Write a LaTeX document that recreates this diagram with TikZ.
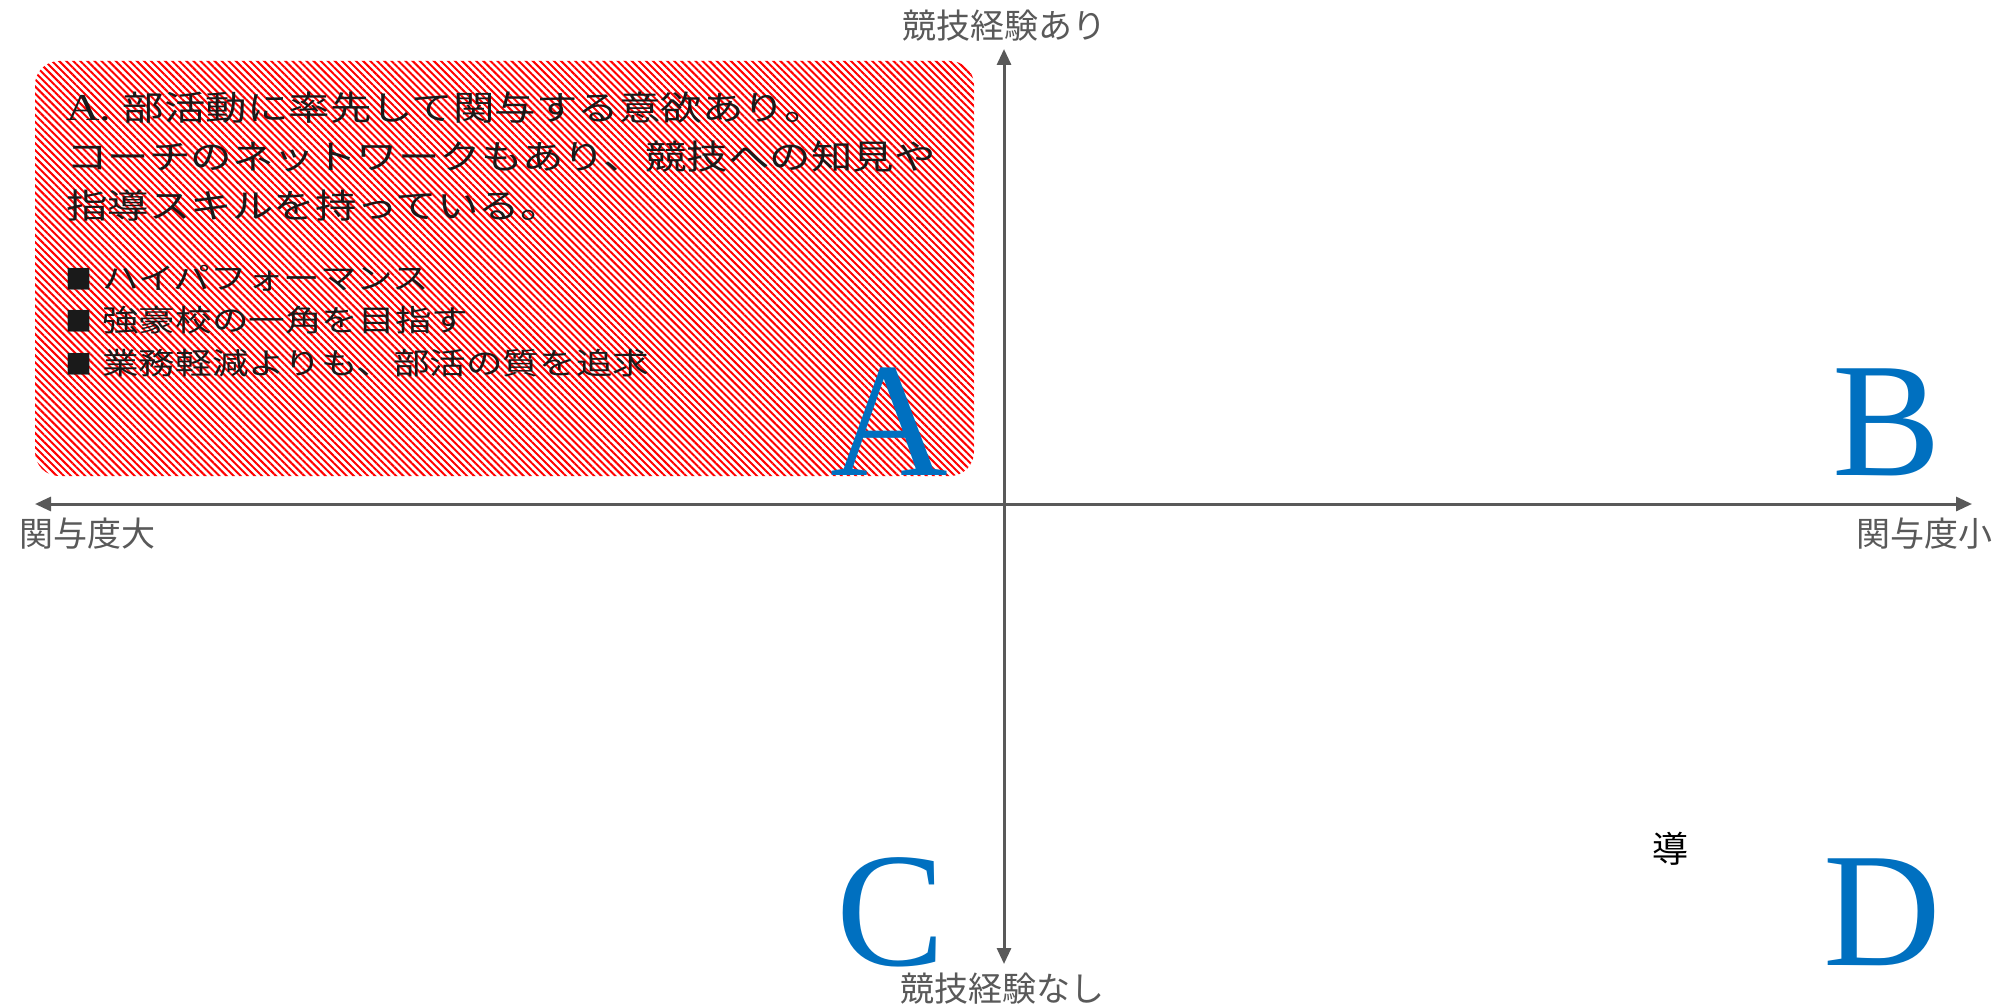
\documentclass[tikz,border=0pt]{standalone}
\usepackage{fontspec}
\newfontfamily\jpfont{Noto Sans CJK JP}
\newfontfamily\jpwide[FakeStretch=1.22]{Noto Sans CJK JP}
\newfontfamily\serifwide[FakeStretch=1.22]{Liberation Serif}
\newfontfamily\bigserif{Liberation Serif}
\usetikzlibrary{arrows.meta,patterns.meta}
\definecolor{axisgray}{HTML}{595959}
\definecolor{qblue}{HTML}{0070C0}
\definecolor{txtdark}{HTML}{1A1A1A}
\begin{document}
\begin{tikzpicture}[x=1pt,y=-1pt,
  axisline/.style={draw=axisgray,line width=3pt,{Triangle[length=16pt,width=14pt]}-{Triangle[length=16pt,width=14pt]}},
  axlabel/.style={font=\jpfont\fontsize{34}{34}\selectfont, text=axisgray, inner sep=0pt},
  quadletter/.style={font=\bigserif\fontsize{163}{163}\selectfont, text=qblue, inner sep=0pt, anchor=base, text depth=0pt},
  hatchbox/.style={pattern={Lines[angle=-45,distance=5pt,line width=2pt]}, pattern color=red, rounded corners=24pt, draw=none, inner sep=0pt},
  headline/.style={font=\jpwide\fontsize{34}{34}\selectfont, text=txtdark, inner sep=0pt, anchor=base west},
  bulletline/.style={font=\jpwide\fontsize{30}{30}\selectfont, text=txtdark, inner sep=0pt, anchor=base west}
]
\useasboundingbox (0,0) rectangle (2012,1006);
\node[hatchbox, minimum width=939pt, minimum height=415pt] (boxA) at (504.5,268.5) {};
\node[headline] (h1) at (66,121) {{\serifwide\fontsize{38}{38}\selectfont A. }部活動に率先して関与する意欲あり。};
\node[headline] (h2) at (66,169.5) {コーチのネットワークもあり、競技への知見や};
\node[headline] (h3) at (66,218) {指導スキルを持っている。};
\node[bulletline] (b1) at (65,289) {{\jpfont\fontsize{27}{27}\selectfont ■}\hspace{10pt}ハイパフォーマンス};
\node[bulletline] (b2) at (65,331.5) {{\jpfont\fontsize{27}{27}\selectfont ■}\hspace{10pt}強豪校の一角を目指す};
\node[bulletline] (b3) at (65,374) {{\jpfont\fontsize{27}{27}\selectfont ■}\hspace{10pt}業務軽減よりも、部活の質を追求};
\coordinate (top) at (1004,49);
\coordinate (bottom) at (1004,964);
\coordinate (left) at (35,504);
\coordinate (right) at (1972,504);
\draw[axisline] (bottom) -- (top);
\draw[axisline] (left) -- (right);
\node[axlabel] (ltop) at (1004,26) {競技経験あり};
\node[axlabel] (lbottom) at (1002,989) {競技経験なし};
\node[axlabel] (lleft) at (87,534) {関与度大};
\node[axlabel] (lright) at (1924,534) {関与度小};
\node[quadletter] (qA) at (889.5,475) {A};
\node[quadletter] (qB) at (1886.5,475) {B};
\node[quadletter] (qC) at (891,965) {C};
\node[quadletter] (qD) at (1882,965) {D};
\node[font=\jpfont\fontsize{36}{36}\selectfont, text=black, inner sep=0pt] (stray) at (1670,849) {導};
\end{tikzpicture}
\end{document}
